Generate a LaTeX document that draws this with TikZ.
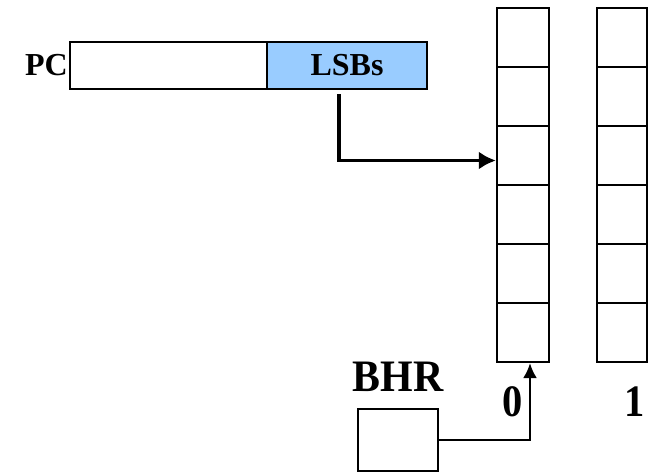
\documentclass[tikz,border=0pt]{standalone}
\usepackage{fontspec}
\setmainfont{Liberation Serif}
\usetikzlibrary{arrows,arrows.meta,calc,positioning}
\tikzstyle{cell} = [draw, line width=2.2pt, minimum width=52pt, minimum height=59pt, inner sep=0pt]
\tikzstyle{reg} = [draw, line width=2.2pt, minimum height=47pt, inner sep=0pt]
\tikzstyle{arrow} = [draw, -{Latex[length=17pt,width=18pt]}]
\newcommand{\lblfont}{\fontsize{32}{36}\selectfont\bfseries}
\newcommand{\bigfont}{\fontsize{45}{50}\selectfont\bfseries}
\definecolor{lsbblue}{HTML}{99CCFF}

\begin{document}
\begin{tikzpicture}[x=1pt,y=-1pt]
    \useasboundingbox (0,0) rectangle (649,474);
    % PC register
    \node[reg, minimum width=197pt] (pc) at (168.5,65.5) {};
    \node[reg, minimum width=160pt, fill=lsbblue] (lsb) at (347,65.5) {\lblfont LSBs};
    \node[left = 1pt of pc, inner sep=0pt] (pclbl) {\lblfont PC};
    % pattern tables 0 and 1
    \foreach \i in {1,...,6}{
      \node[cell] (c0-\i) at (523,{8+59*(\i-0.5)}) {};
      \node[cell, minimum width=50pt] (c1-\i) at (622,{8+59*(\i-0.5)}) {};
    }
    \node[inner sep=0pt] (t0) at (513,402) {\scalebox{0.9}[1]{\bigfont 0}};
    \node[inner sep=0pt] (t1) at (635,402) {\scalebox{0.9}[1]{\bigfont 1}};
    % BHR
    \node[draw, line width=2.2pt, minimum width=80pt, minimum height=62pt] (bhr) at (398,440) {};
    \node[inner sep=0pt] (bhrlbl) at (398,377) {\scalebox{0.93}[1]{\bigfont BHR}};
    % index arrows
    \draw[arrow, line width=3.6pt] ($(lsb.south)+(-8,4)$) |- ($(c0-3.west)+(0,5)$);
    \draw[arrow, line width=2.4pt, -{Latex[length=15pt,width=14pt]}] (bhr.east) -| ($(c0-6.south)+(7,0)$);
  \end{tikzpicture}
\end{document}
